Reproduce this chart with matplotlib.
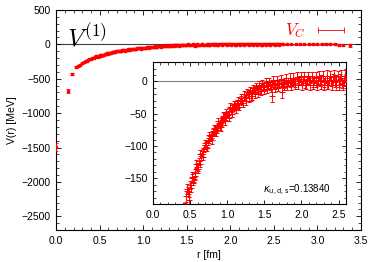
import matplotlib
matplotlib.use('Agg')
import matplotlib.pyplot as plt
from matplotlib.ticker import MultipleLocator, FormatStrFormatter
from matplotlib.lines import Line2D

plt.rcParams['font.family'] = ['Liberation Sans', 'DejaVu Sans']
plt.rcParams['mathtext.fontset'] = 'cm'

# datos: r [fm], V [MeV], error
r_corto = [0.0, 0.14, 0.18, 0.23, 0.25, 0.28, 0.30, 0.32, 0.34, 0.35, 0.37, 0.38, 0.40, 0.41, 0.43]
v_corto = [-1490, -680, -435, -333, -318, -295, -272, -258, -240, -236, -226, -220, -210, -204, -195]
e_corto = [60, 30, 15, 12, 10, 9, 8, 8, 7, 7, 7, 6, 6, 6, 6]

r_medio = [0.45, 0.47, 0.48, 0.50, 0.51, 0.53, 0.54, 0.56, 0.57, 0.59, 0.60, 0.62, 0.63, 0.65, 0.66,
           0.68, 0.69, 0.71, 0.72, 0.74, 0.75, 0.77, 0.78, 0.80, 0.81, 0.83, 0.84, 0.86, 0.87, 0.89,
           0.90, 0.92, 0.93, 0.95, 0.96, 0.98, 1.00, 1.01, 1.03, 1.05, 1.06, 1.08, 1.10, 1.11, 1.13,
           1.15, 1.17, 1.19, 1.20, 1.22, 1.24, 1.26, 1.28, 1.30, 1.32, 1.34, 1.36, 1.38, 1.40, 1.42,
           1.44, 1.46, 1.48, 1.50, 1.53, 1.55, 1.58, 1.60, 1.61, 1.63, 1.65, 1.68, 1.70, 1.72, 1.74,
           1.75, 1.77, 1.80, 1.82, 1.85, 1.87, 1.90, 1.92, 1.95, 1.97, 2.00, 2.02, 2.05, 2.07, 2.10,
           2.12, 2.15, 2.17, 2.20, 2.22, 2.25, 2.27, 2.30, 2.32, 2.35, 2.37, 2.40, 2.42, 2.45, 2.47,
           2.50, 2.52, 2.55, 2.57, 2.60]
v_medio = [-178, -170, -184, -160, -165, -150, -155, -142, -146, -132, -136, -124, -128, -116, -112,
           -108, -104, -99, -102, -93, -90, -88, -84, -82, -78, -79, -74, -72, -70, -66,
           -69, -62, -60, -58, -55, -54, -50, -52, -46, -45, -42, -40, -39, -36, -34,
           -35, -30, -28, -31, -25, -24, -21, -20, -18, -22, -15, -13, -14, -11, -10,
           -12, -8, -7, -9, -6, -5, -7, -22, -4, -3, -6, -2, -4, -3, -16,
           -1, -4, -2, 0, -3, -1, 1, -2, 0, 2, -1, 1, -3, 2, 0,
           3, -1, 1, -2, 2, 0, 3, -1, 1, -3, 2, 0, 3, -1, 2,
           0, 4, -2, 1, 3]
e_medio = [8, 7, 9, 6, 7, 6, 6, 6, 5, 5, 6, 5, 5, 5, 5,
           5, 5, 5, 6, 5, 5, 5, 5, 5, 5, 6, 5, 5, 5, 5,
           6, 5, 5, 5, 6, 5, 5, 5, 5, 5, 6, 5, 5, 5, 5,
           6, 5, 5, 6, 5, 5, 5, 6, 5, 8, 5, 5, 6, 5, 5,
           7, 5, 5, 6, 5, 5, 6, 10, 5, 5, 6, 5, 6, 5, 9,
           5, 6, 5, 5, 6, 5, 5, 6, 5, 6, 5, 6, 7, 6, 6,
           6, 7, 6, 7, 6, 7, 7, 7, 7, 8, 7, 7, 8, 8, 8,
           8, 8, 8, 8, 9]

r_extra = [0.46, 0.49, 0.52, 0.55, 0.58, 0.61, 0.64, 0.67, 0.70, 0.73,
           0.76, 0.79, 0.82, 0.85, 0.88, 0.91, 0.94, 0.97, 0.99, 1.02,
           1.04, 1.07, 1.09, 1.12, 1.14, 1.16, 1.18, 1.21, 1.23, 1.25,
           1.27, 1.29, 1.31, 1.33, 1.35, 1.37, 1.39, 1.41, 1.43, 1.45,
           1.47, 1.49, 1.52, 1.54, 1.57, 1.59, 1.62, 1.64, 1.67, 1.69,
           1.73, 1.76, 1.79, 1.81, 1.84, 1.86, 1.89, 1.91, 1.94, 1.96,
           1.99, 2.01, 2.04, 2.06, 2.09, 2.11, 2.14, 2.16, 2.19, 2.21,
           2.24, 2.26, 2.29, 2.31, 2.34, 2.36, 2.39, 2.41, 2.44, 2.46,
           2.49, 2.51, 2.54, 2.56, 2.59]
v_extra = [-167, -172, -148, -152, -128, -133, -112, -117, -96, -103,
           -83, -91, -72, -80, -62, -71, -53, -62, -47, -56,
           -40, -50, -35, -43, -29, -39, -25, -34, -20, -30,
           -16, -26, -13, -23, -10, -20, -7, -18, -5, -15,
           -3, -14, -1, -12, 0, -11, 2, -10, 3, -9,
           4, -8, 5, -7, 6, -7, 6, -6, 7, -6,
           7, -6, 8, -5, 7, -6, 8, -5, 7, -6,
           8, -5, 8, -6, 9, -5, 8, -6, 9, -5,
           8, -6, 9, -5, 8]
e_extra = [8, 7, 7, 6, 6, 6, 6, 5, 6, 5,
           5, 6, 5, 5, 6, 5, 5, 6, 5, 5,
           6, 5, 5, 6, 5, 5, 6, 5, 5, 6,
           5, 6, 5, 6, 5, 6, 5, 6, 5, 6,
           6, 6, 6, 6, 6, 6, 6, 6, 6, 6,
           6, 6, 7, 6, 7, 6, 7, 6, 7, 6,
           7, 7, 7, 7, 7, 7, 7, 7, 7, 7,
           8, 7, 8, 7, 8, 7, 8, 7, 8, 8,
           8, 8, 8, 8, 9]

r_largo = [2.65, 2.70, 2.75, 2.80, 2.85, 2.90, 2.95, 3.00, 3.05, 3.10, 3.15, 3.20, 3.25, 3.30, 3.37]
v_largo = [1, -1, 2, 0, -2, 1, 3, -1, 2, 0, 5, 3, -4, -8, -15]
e_largo = [9, 9, 10, 10, 10, 11, 11, 12, 12, 13, 13, 14, 15, 18, 22]

kappa = '0.13840'

r_todo = r_corto + r_medio + r_extra + r_largo
v_todo = v_corto + v_medio + v_extra + v_largo
e_todo = e_corto + e_medio + e_extra + e_largo

rojo = '#ff0000'

fig = plt.figure(figsize=(3.74, 2.62), dpi=100)
ax = fig.add_axes([0.150, 0.122, 0.815, 0.840])

ax.axhline(0, color='0.25', lw=0.8, zorder=1)
ax.errorbar(r_todo, v_todo, yerr=e_todo, fmt='s', ms=1.9, color=rojo, ecolor=rojo,
            elinewidth=0.6, capsize=1.2, capthick=0.6, zorder=3)

ax.set_xlim(0, 3.5)
ax.set_ylim(-2700, 500)
ax.xaxis.set_major_locator(MultipleLocator(0.5))
ax.xaxis.set_minor_locator(MultipleLocator(0.1))
ax.yaxis.set_major_locator(MultipleLocator(500))
ax.yaxis.set_minor_locator(MultipleLocator(100))
ax.xaxis.set_major_formatter(FormatStrFormatter('%.1f'))
ax.tick_params(which='both', direction='in', top=True, right=True, labelsize=7.5, pad=4)
ax.tick_params(which='major', length=3.5, width=0.6)
ax.tick_params(which='minor', length=2, width=0.5)
for s in ax.spines.values():
    s.set_linewidth(0.8)
ax.set_xlabel('r [fm]', fontsize=7.5, labelpad=3)
ax.set_ylabel('V(r) [MeV]', fontsize=7.5, labelpad=3)

ax.text(0.035, 0.94, r'$V^{(1)}$', transform=ax.transAxes, fontsize=18,
        va='top', ha='left', color='black')

muestra = Line2D([], [], color=rojo, marker='|', ms=4, lw=0.6, mew=0.6,
                 mec=rojo, mfc=rojo)
leg = ax.legend([muestra], [r'$V_C$'], loc='upper right', frameon=False, markerfirst=False,
                numpoints=2, handlelength=2.2, fontsize=12, borderaxespad=0.3,
                handletextpad=0.4)
for t in leg.get_texts():
    t.set_color(rojo)
for h in leg.get_lines():
    h.set_color(rojo)

# recuadro con el detalle
ins = fig.add_axes([0.409, 0.221, 0.516, 0.542])
ins.axhline(0, color='0.5', lw=0.8, zorder=1)
ins.errorbar(r_todo, v_todo, yerr=e_todo, fmt='+', ms=4.5, mew=0.7, color=rojo, ecolor=rojo,
             elinewidth=0.6, capsize=1.6, capthick=0.6, zorder=3)
ins.set_xlim(0, 2.6)
ins.set_ylim(-190, 30)
ins.xaxis.set_major_locator(MultipleLocator(0.5))
ins.xaxis.set_minor_locator(MultipleLocator(0.1))
ins.yaxis.set_major_locator(MultipleLocator(50))
ins.yaxis.set_minor_locator(MultipleLocator(10))
ins.xaxis.set_major_formatter(FormatStrFormatter('%.1f'))
ins.tick_params(which='both', direction='in', top=True, right=True, labelsize=7.5, pad=4)
ins.tick_params(which='major', length=3, width=0.6)
ins.tick_params(which='minor', length=1.8, width=0.5)
for s in ins.spines.values():
    s.set_linewidth(0.8)
ins.text(0.92, 0.04, r'$\kappa_{\rm u,d,s}$=' + kappa, transform=ins.transAxes,
         fontsize=7, ha='right', va='bottom', math_fontfamily='dejavusans')

fig.savefig('out.png', dpi=100)
